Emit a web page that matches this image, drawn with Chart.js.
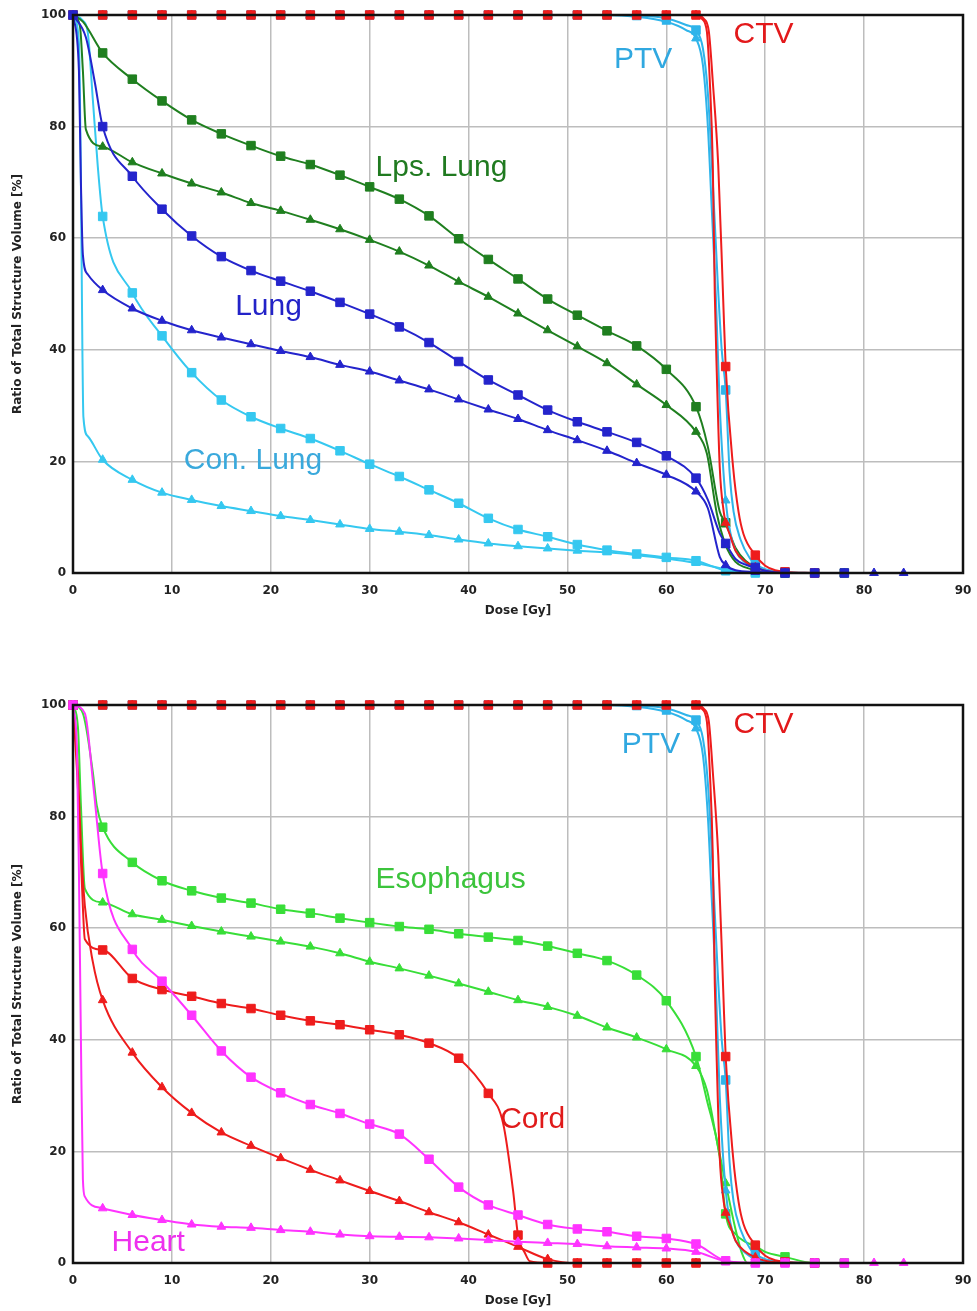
<!DOCTYPE html>
<html>
<head>
<meta charset="utf-8">
<script src="https://cdn.jsdelivr.net/npm/chart.js@4.4.1/dist/chart.umd.min.js"></script>
<style>
  body { margin: 0; background: #fff; }
  canvas { position: absolute; left: 0; }
</style>
</head>
<body>
<canvas id="lungChart" width="977" height="621" style="top:0px"></canvas>
<canvas id="organChart" width="977" height="621" style="top:690px"></canvas>
<script>
// [dose Gy, volume %], markers sit on every 3 Gy
const ctvSq = [[0,100],[3,100],[6,100],[9,100],[12,100],[15,100],[18,100],[21,100],[24,100],[27,100],[30,100],[33,100],[36,100],[39,100],[42,100],[45,100],[48,100],[51,100],[54,100],[57,100],[60,100],[63,100],[63.8,99.3],[64.3,97],[64.7,88],[65.25,73],[65.75,49],[66,37],[66.75,19],[67.3,11],[67.8,7],[69,3.2],[70,1.3],[71,0.5],[72,0.2],[75,0]];
const ctvTri = [[0,100],[3,100],[6,100],[9,100],[12,100],[15,100],[18,100],[21,100],[24,100],[27,100],[30,100],[33,100],[36,100],[39,100],[42,100],[45,100],[48,100],[51,100],[54,100],[57,100],[60,100],[63,100],[63.6,99.3],[64.1,97],[64.4,88],[64.7,73],[64.9,50],[65.1,36],[65.4,19],[65.8,11],[66,9],[66.4,7],[67,4],[68,2],[69,1],[70,0.4],[72,0]];
const ptvSq = [[0,100],[3,100],[6,100],[9,100],[12,100],[15,100],[18,100],[21,100],[24,100],[27,100],[30,100],[33,100],[36,100],[39,100],[42,100],[45,100],[48,100],[51,100],[54,100],[57,99.9],[60,99.4],[62,98.2],[63,97.3],[63.7,94],[64.2,86],[64.7,70],[65.2,52],[65.6,40],[66,32.8],[66.4,18],[66.8,11],[67.5,6],[68.5,2.5],[69,1.6],[70,0.7],[72,0.2],[75,0]];
const ptvTri = [[0,100],[3,100],[6,100],[9,100],[12,100],[15,100],[18,100],[21,100],[24,100],[27,100],[30,100],[33,100],[36,100],[39,100],[42,100],[45,100],[48,100],[51,100],[54,100],[57,99.7],[60,98.8],[62,97.3],[63,95.8],[63.7,91],[64.2,80],[64.6,65],[65,50],[65.4,30],[66,13],[66.5,7],[67,4],[68,1.8],[69,0.7],[70,0.2],[72,0]];

const lpsSq = [[0,100],[1,98.8],[3,93.2],[6,88.5],[9,84.6],[12,81.2],[15,78.7],[18,76.6],[21,74.7],[24,73.2],[27,71.3],[30,69.2],[33,67.0],[36,64.0],[39,59.9],[42,56.2],[45,52.7],[48,49.1],[51,46.2],[54,43.4],[57,40.7],[60,36.5],[63,29.8],[64.2,22.6],[65.4,11],[66,9],[67,4.5],[68,2.2],[69,1.1],[70,0.4],[72,0],[75,0],[78,0]];
const lpsTri = [[0,100],[0.7,98],[1.0,90],[1.3,79.5],[3,76.4],[6,73.6],[9,71.6],[12,69.8],[15,68.2],[18,66.3],[21,64.9],[24,63.3],[27,61.6],[30,59.7],[33,57.6],[36,55.1],[39,52.2],[42,49.5],[45,46.5],[48,43.5],[51,40.6],[54,37.6],[57,33.8],[60,30.1],[63,25.3],[64.1,21.4],[65.1,10.7],[66,5],[67,2],[68,1],[69,0.5],[70,0.1],[72,0]];
const lungSq = [[0,100],[1.3,96],[2.2,88],[3,80],[6,71.1],[9,65.2],[12,60.4],[15,56.7],[18,54.2],[21,52.3],[24,50.5],[27,48.5],[30,46.4],[33,44.1],[36,41.3],[39,37.9],[42,34.6],[45,31.9],[48,29.2],[51,27.1],[54,25.3],[57,23.4],[60,21.0],[63,17.0],[64.2,13.1],[65.4,7.1],[66,5.3],[67,2.5],[68,1.5],[69,1.0],[70,0.4],[72,0],[75,0],[78,0]];
const lungTri = [[0,100],[0.6,90],[0.8,70],[1.0,57],[1.5,53.5],[3,50.7],[6,47.4],[9,45.2],[12,43.5],[15,42.2],[18,41.0],[21,39.8],[24,38.7],[27,37.3],[30,36.1],[33,34.5],[36,32.9],[39,31.1],[42,29.3],[45,27.6],[48,25.6],[51,23.8],[54,21.9],[57,19.7],[60,17.6],[63,14.6],[64.2,11.6],[65.4,2.9],[66,1.4],[67,0.5],[69,0.2],[72,0],[75,0],[78,0],[81,0],[84,0]];
const conSq = [[0,100],[1,99],[1.5,96.8],[2,85],[2.5,73],[3,63.9],[6,50.2],[9,42.5],[12,35.9],[15,31.0],[18,28.0],[21,25.9],[24,24.1],[27,21.9],[30,19.5],[33,17.3],[36,14.9],[39,12.5],[42,9.8],[45,7.8],[48,6.5],[51,5.1],[54,4.1],[57,3.4],[60,2.8],[63,2.2],[66,0.4],[69,0],[72,0]];
const conTri = [[0,100],[0.6,95],[0.8,70],[0.95,40],[1.05,28],[1.5,24.5],[3,20.3],[6,16.7],[9,14.4],[12,13.1],[15,12.0],[18,11.1],[21,10.2],[24,9.5],[27,8.7],[30,7.9],[33,7.4],[36,6.8],[39,6.0],[42,5.3],[45,4.8],[48,4.4],[51,4.0],[54,3.7],[57,3.2],[60,2.6],[63,1.8],[66,0.7],[69,0],[72,0]];

const esoSq = [[0,100],[1,98.5],[2,88],[2.4,82],[3,78.1],[6,71.8],[9,68.5],[12,66.7],[15,65.4],[18,64.5],[21,63.4],[24,62.7],[27,61.8],[30,61.0],[33,60.3],[36,59.8],[39,59.0],[42,58.4],[45,57.8],[48,56.8],[51,55.5],[54,54.2],[57,51.6],[60,47.0],[63,37.0],[64.1,29.2],[65.4,19],[66,8.8],[67,5.2],[68,3.8],[69,3],[70,2],[72,1.1],[75,0],[78,0]];
const esoTri = [[0,100],[0.5,96],[0.8,82],[1.2,67.1],[3,64.6],[6,62.5],[9,61.5],[12,60.4],[15,59.4],[18,58.5],[21,57.6],[24,56.7],[27,55.5],[30,54.0],[33,52.8],[36,51.5],[39,50.1],[42,48.6],[45,47.1],[48,45.9],[51,44.3],[54,42.2],[57,40.4],[60,38.3],[63,35.3],[64.1,31],[65.1,22],[66,14.3],[67,6],[67.6,2],[68.2,0],[69,0],[72,0]];
const cordSq = [[0,100],[0.5,85],[0.9,68],[1.2,58],[3,56.1],[6,51.0],[9,49.0],[12,47.8],[15,46.5],[18,45.6],[21,44.4],[24,43.4],[27,42.7],[30,41.8],[33,40.9],[36,39.4],[39,36.7],[42,30.4],[43.5,25],[44.5,13],[45,5],[45.7,1.8],[46.2,0.3],[48,0],[51,0],[54,0],[57,0],[60,0],[63,0]];
const cordTri = [[0,100],[0.5,88],[0.8,75],[1.2,64],[2,54],[3,47.1],[6,37.7],[9,31.5],[12,26.9],[15,23.4],[18,21.0],[21,18.8],[24,16.7],[27,14.8],[30,12.9],[33,11.1],[36,9.1],[39,7.3],[42,5.1],[45,2.9],[48,0.7],[51,0],[54,0],[57,0],[60,0],[63,0]];
const heartSq = [[0,100],[1.2,98.5],[2.1,84.8],[3,69.8],[6,56.2],[9,50.5],[12,44.4],[15,38.0],[18,33.3],[21,30.5],[24,28.4],[27,26.8],[30,24.9],[33,23.1],[36,18.6],[39,13.6],[42,10.4],[45,8.6],[48,6.9],[51,6.1],[54,5.6],[57,4.8],[60,4.4],[63,3.4],[66,0.4],[69,0],[72,0],[75,0],[78,0]];
const heartTri = [[0,100],[0.4,92],[0.6,70],[0.8,40],[1.0,15],[1.2,11.9],[3,9.8],[6,8.6],[9,7.7],[12,6.9],[15,6.5],[18,6.3],[21,5.9],[24,5.6],[27,5.1],[30,4.8],[33,4.7],[36,4.6],[39,4.4],[42,4.1],[45,3.8],[48,3.6],[51,3.4],[54,3.0],[57,2.8],[60,2.6],[63,2.0],[66,0.3],[69,0],[72,0],[75,0],[78,0],[81,0],[84,0]];

const doseTicks = [0, 10, 20, 30, 40, 50, 60, 70, 80, 90];
const volumeTicks = [0, 20, 40, 60, 80, 100];

// text labels: [text, dose, volume, colour]
const lungLabels = [
	["Lps. Lung", 30.6, 72.6, "#207a20"],
	["Lung", 16.4, 47.8, "#2323c8"],
	["Con. Lung", 11.2, 20.1, "#3aa9dc"],
	["PTV", 54.7, 91.9, "#30a8e0"],
	["CTV", 66.8, 96.4, "#e3191b"],
];
const organLabels = [
	["PTV", 55.5, 92.8, "#30a8e0"],
	["CTV", 66.8, 96.4, "#e3191b"],
	["Esophagus", 30.6, 68.6, "#3cc43c"],
	["Cord", 43.2, 25.6, "#e01a1a"],
	["Heart", 3.9, 3.6, "#ee30ee"],
];

const RED = "#ee1c1c";
const SKY = "#2fb4ea";
const DKGREEN = "#1f7f1f";
const BLUE = "#2424cc";
const CYAN = "#35c8f0";
const GREEN = "#38de38";
const MAGENTA = "#ff33ff";

function curve(pts, color, style) {
	return {
		data: pts.map(([x, y]) => ({ x, y })),
		borderColor: color,
		backgroundColor: color,
		borderWidth: 2,
		pointStyle: style,
		pointRadius: (c) => (c.raw && c.raw.x % 3 === 0 ? (style === "rect" ? 6 : 5) : 0),
		pointHoverRadius: 0,
		pointBorderWidth: 1,
		cubicInterpolationMode: "monotone",
		clip: false,
	};
}

const annotate = {
	id: "annotate",
	afterDatasetsDraw(chart, args, opts) {
		const { ctx, chartArea: a } = chart;
		const { x, y } = chart.scales;
		ctx.save();
		ctx.lineWidth = 2.5;
		ctx.strokeStyle = "#111";
		ctx.strokeRect(a.left, a.top, a.right - a.left, a.bottom - a.top);
		ctx.font = '30px "Liberation Sans", Arial, sans-serif';
		ctx.textBaseline = "middle";
		opts.items.forEach(([text, dose, vol, color]) => {
			ctx.fillStyle = color;
			ctx.fillText(text, x.getPixelForValue(dose), y.getPixelForValue(vol));
		});
		ctx.restore();
	},
};

const tickFont = { family: "DejaVu Sans", size: 12, weight: "bold" };

function makeChart(id, datasets, labels) {
	return new Chart(document.getElementById(id), {
		type: "line",
		data: { datasets },
		plugins: [annotate],
		options: {
			responsive: false,
			animation: false,
			events: [],
			layout: { padding: { top: 15, right: 14, bottom: 0, left: 0 } },
			plugins: {
				legend: { display: false },
				tooltip: { enabled: false },
				annotate: { items: labels },
			},
			scales: {
				x: {
					type: "linear",
					min: 0,
					max: 90,
					afterFit: (s) => { s.height = 48; s.paddingLeft = 0; s.paddingRight = 0; },
					afterBuildTicks: (s) => { s.ticks = doseTicks.map((v) => ({ value: v })); },
					grid: { color: "#bdbdbd", lineWidth: 1.5, drawTicks: false },
					border: { display: false },
					ticks: { font: tickFont, color: "#222", padding: 11, maxRotation: 0 },
					title: { display: true, text: "Dose [Gy]", font: tickFont, color: "#222", padding: { top: 0, bottom: 3 } },
				},
				y: {
					min: 0,
					max: 100,
					afterFit: (s) => { s.width = 73; },
					afterBuildTicks: (s) => { s.ticks = volumeTicks.map((v) => ({ value: v })); },
					grid: { color: "#bdbdbd", lineWidth: 1.5, drawTicks: false },
					border: { display: false },
					ticks: { font: tickFont, color: "#222", padding: 7 },
					title: { display: true, text: "Ratio of Total Structure Volume [%]", font: tickFont, color: "#222", padding: { top: 11, bottom: 0 } },
				},
			},
		},
	});
}

makeChart("lungChart", [
	curve(lungSq, BLUE, "rect"),
	curve(lungTri, BLUE, "triangle"),
	curve(ctvSq, RED, "rect"),
	curve(ctvTri, RED, "triangle"),
	curve(ptvSq, SKY, "rect"),
	curve(ptvTri, SKY, "triangle"),
	curve(lpsSq, DKGREEN, "rect"),
	curve(lpsTri, DKGREEN, "triangle"),
	curve(conSq, CYAN, "rect"),
	curve(conTri, CYAN, "triangle"),
], lungLabels);

makeChart("organChart", [
	curve(heartSq, MAGENTA, "rect"),
	curve(heartTri, MAGENTA, "triangle"),
	curve(ctvSq, RED, "rect"),
	curve(ctvTri, RED, "triangle"),
	curve(ptvSq, SKY, "rect"),
	curve(ptvTri, SKY, "triangle"),
	curve(cordSq, RED, "rect"),
	curve(cordTri, RED, "triangle"),
	curve(esoSq, GREEN, "rect"),
	curve(esoTri, GREEN, "triangle"),
], organLabels);
</script>
</body>
</html>
